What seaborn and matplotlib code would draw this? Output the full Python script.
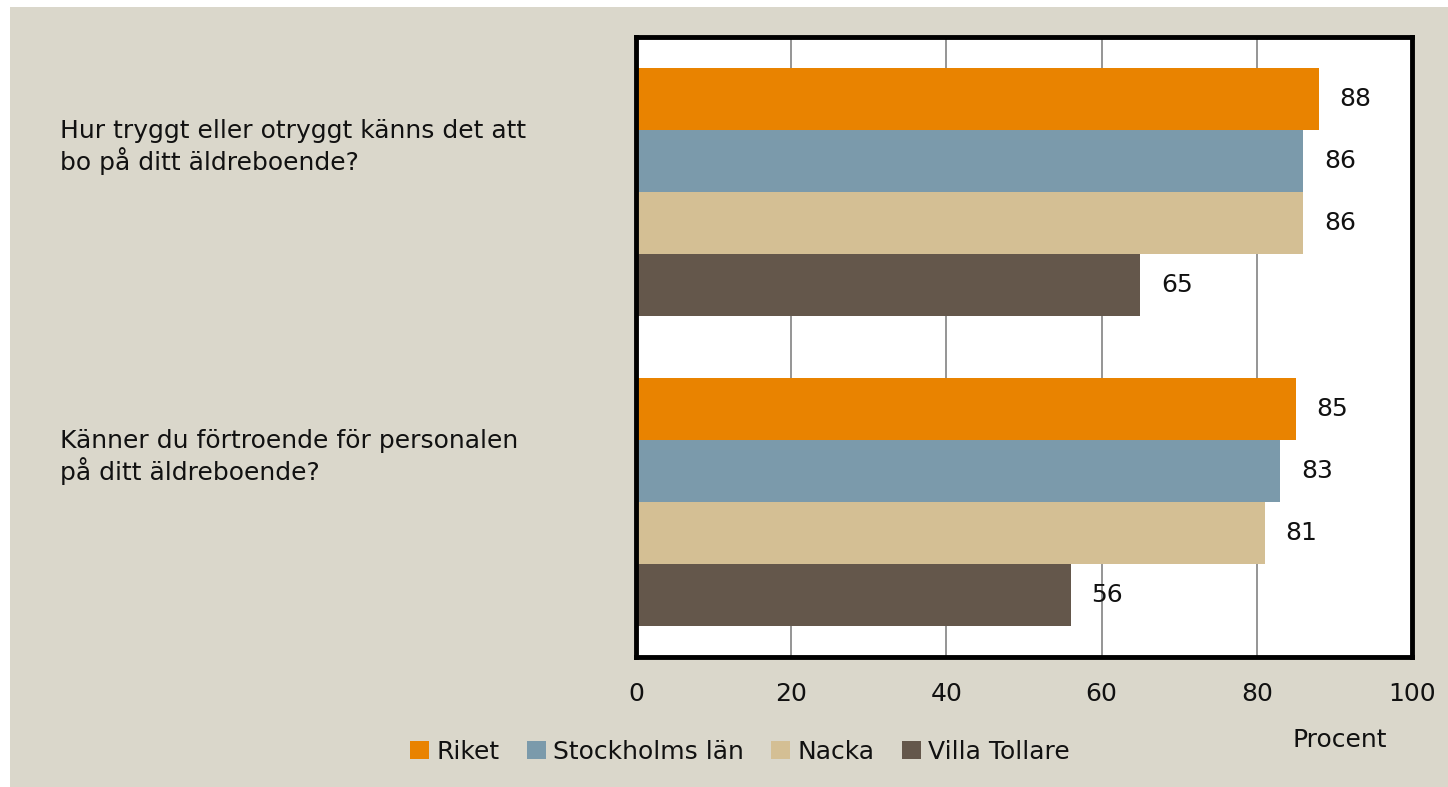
import matplotlib.pyplot as plt
import matplotlib.patches as mpatches
import matplotlib.transforms as mtransforms
import seaborn as sns
import pandas as pd

# data
questions = ["Hur tryggt eller otryggt känns det att\nbo på ditt äldreboende?",
             "Känner du förtroende för personalen\npå ditt äldreboende?"]
groups = ["Riket", "Stockholms län", "Nacka", "Villa Tollare"]
values_q1 = [88, 86, 86, 65]
values_q2 = [85, 83, 81, 56]
colors = ["#E98300", "#7B9AAB", "#D4BF94", "#64574B"]
x_ticks = [0, 20, 40, 60, 80, 100]

df = pd.DataFrame({
    "question": [questions[0]] * 4 + [questions[1]] * 4,
    "group": groups * 2,
    "value": values_q1 + values_q2,
})

sns.set_theme(style="white")
plt.rcParams['font.family'] = ['DejaVu Sans']
bg = "#DAD7CB"
fs = 18

fig = plt.figure(figsize=(14.48, 7.87), dpi=100, facecolor="white")
# beige panel behind everything
fig.patches.append(mpatches.Rectangle((10 / 1448, 0), 1 - 10 / 1448, 1 - 7 / 787,
                                      transform=fig.transFigure, facecolor=bg,
                                      edgecolor="none", zorder=-10))

ax = fig.add_axes([636 / 1448, 1 - 657 / 787, (1412 - 636) / 1448, (657 - 37) / 787])
plot = sns.barplot(data=df, y="question", x="value", hue="group", palette=colors,
                   orient="h", width=0.8, ax=ax, saturation=1, legend=True,
                   edgecolor="none", linewidth=0)

ax.set_facecolor("white")
ax.set_xlim(0, 100)
ax.set_ylim(1.5, -0.5)
ax.set_xticks(x_ticks)
ax.set_xticklabels([str(t) for t in x_ticks], fontsize=fs, color="#111111")
ax.tick_params(axis="x", length=0, pad=18)
ax.set_yticks([])
ax.set_ylabel("")
ax.set_xlabel("")
ax.grid(axis="x", color="#8C8C8C", linewidth=1.3)
ax.set_axisbelow(True)
for s in ax.spines.values():
    s.set_visible(True)
    s.set_color("black")
    s.set_linewidth(3.5)

# bar values
for container in ax.containers:
    ax.bar_label(container, fmt="%d", padding=15, fontsize=fs, color="#111111")

# question labels on the left
trans = mtransforms.blended_transform_factory(fig.transFigure, ax.transData)
for i, q in enumerate(questions):
    ax.text(60 / 1448, i - 0.145, q, transform=trans, ha="left", va="center",
            fontsize=fs, color="#111111", linespacing=1.2, clip_on=False)

# legend at the bottom
handles, labels = ax.get_legend_handles_labels()
ax.legend_.remove()
fig.legend(handles, labels, loc="center", bbox_to_anchor=(740 / 1448, 1 - 752 / 787),
           ncol=4, frameon=False, fontsize=fs, handlelength=0.75, handleheight=0.75,
           handletextpad=0.3, columnspacing=1.1, labelcolor="#111111")

fig.text(1340 / 1448, 1 - 740 / 787, "Procent", ha="center", va="center",
         fontsize=fs, color="#111111")

plt.savefig("out.png", dpi=100, facecolor=fig.get_facecolor())
plt.close()
